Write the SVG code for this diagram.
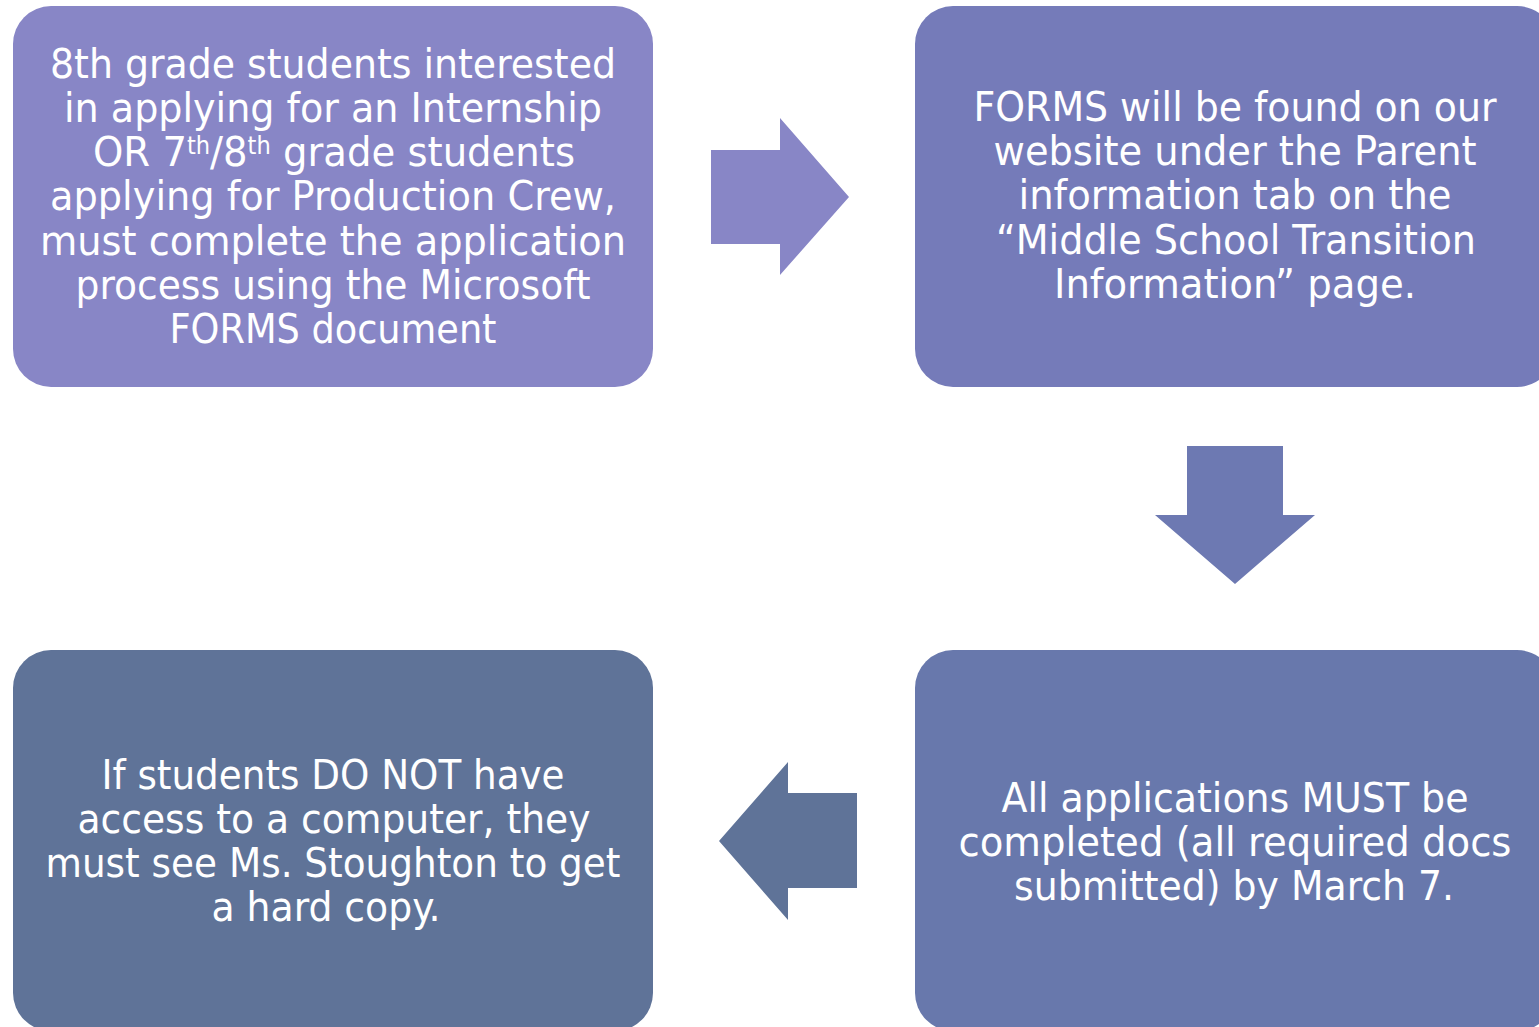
<svg xmlns="http://www.w3.org/2000/svg" width="1539" height="1027" viewBox="0 0 1539 1027">
<style>
.t{font-family:"DejaVu Sans Condensed","DejaVu Sans",sans-serif;font-size:41px;fill:#ffffff;text-anchor:middle}
.sup{font-size:24px}
</style>
<rect width="1539" height="1027" fill="#ffffff"/>
<g id="connectors">
<path id="arrow1" d="M711,150 H780 V118 L849,197 L780,275 V244 H711 Z" fill="#8886C6"/>
<path id="arrow2" d="M1187,446 H1283 V515 H1315 L1235,584 L1155,515 H1187 Z" fill="#6D79B2"/>
<path id="arrow3" d="M857,793 H788 V762 L719,841 L788,920 V888 H857 Z" fill="#5F7398"/>
</g>
<g id="node1">
<rect x="13" y="6" width="640" height="381" rx="38" fill="#8886C6"/>
<text class="t"><tspan x="333" y="78" textLength="566" lengthAdjust="spacingAndGlyphs">8th grade students interested</tspan></text>
<text class="t"><tspan x="333" y="122" textLength="538" lengthAdjust="spacingAndGlyphs">in applying for an Internship</tspan></text>
<text class="t" x="334" y="166" textLength="482" lengthAdjust="spacingAndGlyphs">OR 7<tspan class="sup" dy="-12">th</tspan><tspan dy="12">/8</tspan><tspan class="sup" dy="-12">th</tspan><tspan dy="12"> grade students</tspan></text>
<text class="t"><tspan x="333" y="210" textLength="566" lengthAdjust="spacingAndGlyphs">applying for Production Crew,</tspan></text>
<text class="t"><tspan x="333" y="255" textLength="586" lengthAdjust="spacingAndGlyphs">must complete the application</tspan></text>
<text class="t"><tspan x="333" y="299" textLength="515" lengthAdjust="spacingAndGlyphs">process using the Microsoft</tspan></text>
<text class="t"><tspan x="333" y="343" textLength="327" lengthAdjust="spacingAndGlyphs">FORMS document</tspan></text>
</g>
<g id="node2">
<rect x="915" y="6" width="640" height="381" rx="38" fill="#757BB9"/>
<text class="t"><tspan x="1235" y="121" textLength="523" lengthAdjust="spacingAndGlyphs">FORMS will be found on our</tspan></text>
<text class="t"><tspan x="1235" y="165" textLength="483" lengthAdjust="spacingAndGlyphs">website under the Parent</tspan></text>
<text class="t"><tspan x="1235" y="209" textLength="433" lengthAdjust="spacingAndGlyphs">information tab on the</tspan></text>
<text class="t"><tspan x="1236" y="254" textLength="480" lengthAdjust="spacingAndGlyphs">“Middle School Transition</tspan></text>
<text class="t"><tspan x="1235" y="298" textLength="362" lengthAdjust="spacingAndGlyphs">Information” page.</tspan></text>
</g>
<g id="node3">
<rect x="915" y="650" width="640" height="381" rx="38" fill="#6878AC"/>
<text class="t"><tspan x="1235" y="812" textLength="467" lengthAdjust="spacingAndGlyphs">All applications MUST be</tspan></text>
<text class="t"><tspan x="1235" y="856" textLength="553" lengthAdjust="spacingAndGlyphs">completed (all required docs</tspan></text>
<text class="t"><tspan x="1234" y="900" textLength="440" lengthAdjust="spacingAndGlyphs">submitted) by March 7.</tspan></text>
</g>
<g id="node4">
<rect x="13" y="650" width="640" height="381" rx="38" fill="#5F7398"/>
<text class="t"><tspan x="333" y="789" textLength="463" lengthAdjust="spacingAndGlyphs">If students DO NOT have</tspan></text>
<text class="t"><tspan x="334" y="833" textLength="513" lengthAdjust="spacingAndGlyphs">access to a computer, they</tspan></text>
<text class="t"><tspan x="333" y="877" textLength="575" lengthAdjust="spacingAndGlyphs">must see Ms. Stoughton to get</tspan></text>
<text class="t"><tspan x="326" y="921" textLength="229" lengthAdjust="spacingAndGlyphs">a hard copy.</tspan></text>
</g>
</svg>
